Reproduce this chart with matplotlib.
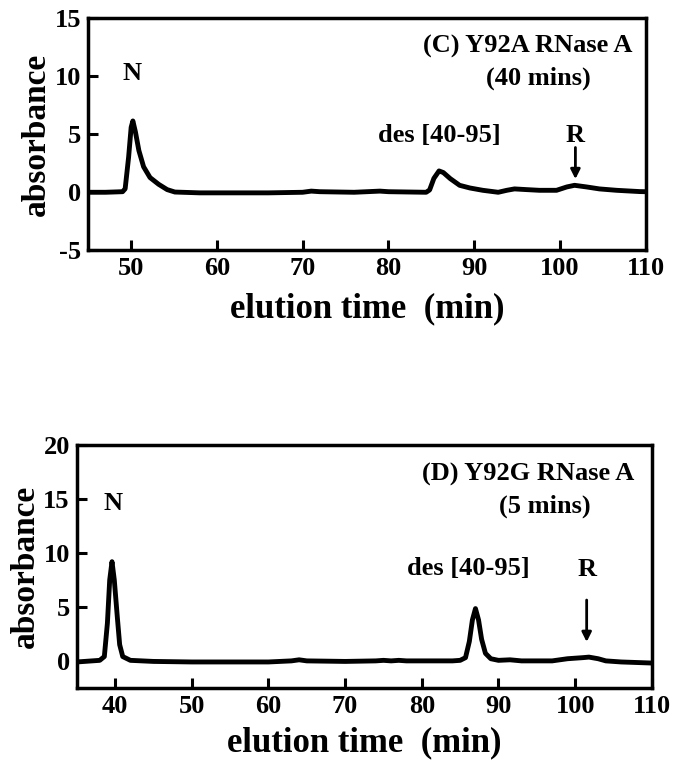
import matplotlib
matplotlib.use("Agg")
import matplotlib.pyplot as plt
import numpy as np

plt.rcParams['font.family'] = ['Liberation Serif', 'DejaVu Serif']
plt.rcParams['font.weight'] = 'bold'
plt.rcParams['axes.unicode_minus'] = False

# Panel C: Y92A RNase A (40 mins)
c_time = [45, 47, 49.0, 49.3, 49.7, 50.0, 50.2, 50.5, 50.9, 51.45, 52.2, 53.2, 54.2, 55.1,
          58, 62, 66, 70, 71, 72, 76, 79, 80, 84.4, 84.8, 85.3, 85.9, 86.4, 87.2, 88.3,
          89.5, 91.0, 92.8, 93.8, 94.7, 96.1, 97.6, 99.6, 100.8, 101.7, 103.1, 104.6,
          106.6, 109.3, 110]
c_abs = [0.0, 0.0, 0.05, 0.3, 3.0, 5.6, 6.15, 5.2, 3.6, 2.2, 1.27, 0.69, 0.23, 0.02,
         -0.05, -0.05, -0.05, 0.0, 0.1, 0.05, 0.0, 0.1, 0.05, 0.0, 0.2, 1.2, 1.84, 1.7, 1.18, 0.6,
         0.37, 0.17, 0.0, 0.17, 0.29, 0.23, 0.17, 0.17, 0.46, 0.6, 0.46, 0.29,
         0.17, 0.06, 0.05]

# Panel D: Y92G RNase A (5 mins)
d_time = [35, 37, 38.0, 38.6, 39.0, 39.3, 39.6, 39.9, 40.3, 40.6, 41.0, 42, 45, 50, 55, 60,
          63, 64, 65, 70, 74, 75, 76, 77, 78, 82, 84, 85, 85.7, 86.2, 86.6, 87.0, 87.4,
          87.8, 88.3, 89, 90, 91.5, 93, 97, 99, 101, 101.8, 103, 104, 106, 110]
d_abs = [-0.1, 0.0, 0.05, 0.4, 3.5, 7.5, 9.2, 7.5, 4.0, 1.5, 0.4, 0.05, -0.05, -0.1, -0.1, -0.1,
         0.0, 0.1, 0.0, -0.05, 0.0, 0.05, 0.0, 0.05, 0.0, 0.0, 0.0, 0.05, 0.3, 1.8, 3.8, 4.85, 3.8,
         2.0, 0.7, 0.2, 0.05, 0.1, 0.0, 0.0, 0.2, 0.3, 0.35, 0.2, 0.0, -0.1, -0.2]

c_xticks = [50, 60, 70, 80, 90, 100, 110]
c_yticks = [-5, 0, 5, 10, 15]
d_xticks = [40, 50, 60, 70, 80, 90, 100, 110]
d_yticks = [0, 5, 10, 15, 20]

fig = plt.figure(figsize=(6.79, 7.63), dpi=100)
ax1 = fig.add_axes([0.130, 0.672, 0.821, 0.304])
ax2 = fig.add_axes([0.113, 0.0985, 0.847, 0.318])

def style(ax, xpad):
    for s in ax.spines.values():
        s.set_linewidth(2.5)
    ax.tick_params(direction='in', length=7, width=2.2, labelsize=19, pad=5,
                   top=False, right=False)
    for lab in ax.get_xticklabels() + ax.get_yticklabels():
        lab.set_fontweight('bold')
    ax.set_xlabel('elution time  (min)', fontsize=25, fontweight='bold', labelpad=xpad)
    ax.set_ylabel('absorbance', fontsize=24, fontweight='bold', labelpad=2)

ax1.plot(c_time, c_abs, color='black', lw=3.5, solid_joinstyle='round')
ax1.set_xlim(45, 110)
ax1.set_ylim(-5, 15)
ax1.set_xticks(c_xticks)
ax1.set_yticks(c_yticks)
style(ax1, 9)
fs = 19
ax1.text(50.1, 10.2, 'N', fontsize=fs, fontweight='bold', ha='center', va='center')
ax1.text(85.9, 4.9, 'des [40-95]', fontsize=fs, fontweight='bold', ha='center', va='center')
ax1.text(101.8, 4.9, 'R', fontsize=fs, fontweight='bold', ha='center', va='center')
ax1.annotate('', xy=(101.8, 0.9), xytext=(101.8, 4.1),
             arrowprops=dict(arrowstyle='-|>', color='black', lw=2, mutation_scale=14))
ax1.text(96.2, 12.6, '(C) Y92A RNase A', fontsize=fs, fontweight='bold', ha='center', va='center')
ax1.text(97.5, 9.85, '(40 mins)', fontsize=fs, fontweight='bold', ha='center', va='center')

ax2.plot(d_time, d_abs, color='black', lw=3.5, solid_joinstyle='round')
ax2.set_xlim(35, 110)
ax2.set_ylim(-2.5, 20)
ax2.set_xticks(d_xticks)
ax2.set_yticks(d_yticks)
style(ax2, 6)
ax2.text(39.8, 14.6, 'N', fontsize=fs, fontweight='bold', ha='center', va='center')
ax2.text(86.1, 8.55, 'des [40-95]', fontsize=fs, fontweight='bold', ha='center', va='center')
ax2.text(101.6, 8.5, 'R', fontsize=fs, fontweight='bold', ha='center', va='center')
ax2.annotate('', xy=(101.5, 1.5), xytext=(101.5, 5.9),
             arrowprops=dict(arrowstyle='-|>', color='black', lw=2, mutation_scale=14))
ax2.text(93.9, 17.25, '(D) Y92G RNase A', fontsize=fs, fontweight='bold', ha='center', va='center')
ax2.text(96.1, 14.35, '(5 mins)', fontsize=fs, fontweight='bold', ha='center', va='center')

fig.savefig('out.png', dpi=100)
